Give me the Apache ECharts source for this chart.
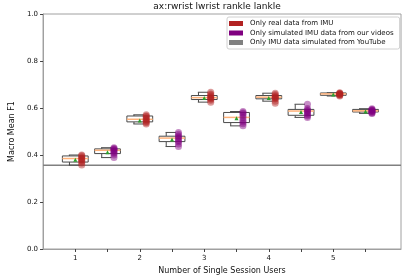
<!DOCTYPE html>
<html>
<head>
<meta charset="utf-8">
<script src="https://cdn.jsdelivr.net/npm/echarts@6/dist/echarts.min.js"></script>
<style>html,body{margin:0;padding:0;background:#fff}#c{width:407px;height:280px}</style>
</head>
<body>
<div id="c"></div>
<script>
// ---- data ----
const userCounts = [1, 2, 3, 4, 5];
const xTickLabels = ['1', '2', '3', '4', '5'];
const yTickValues = [0.0, 0.2, 0.4, 0.6, 0.8, 1.0];
const seriesNames = ['Only real data from IMU', 'Only simulated IMU data from our videos', 'Only IMU data simulated from YouTube'];

// [min, q1, median, q3, max]
const realStats = [
  [0.357, 0.370, 0.385, 0.396, 0.400],
  [0.532, 0.541, 0.552, 0.566, 0.571],
  [0.625, 0.636, 0.644, 0.653, 0.667],
  [0.629, 0.639, 0.646, 0.653, 0.663],
  [0.651, 0.654, 0.660, 0.664, 0.665]
];
const simStats = [
  [0.389, 0.406, 0.420, 0.426, 0.431],
  [0.436, 0.457, 0.472, 0.480, 0.496],
  [0.524, 0.538, 0.560, 0.581, 0.585],
  [0.560, 0.569, 0.587, 0.594, 0.616],
  [0.577, 0.583, 0.588, 0.594, 0.597]
];
const realMeans = [0.380, 0.547, 0.643, 0.643, 0.657];
const simMeans = [0.412, 0.466, 0.556, 0.583, 0.585];

const realPoints = [
  [0.400, 0.397, 0.391, 0.386, 0.383, 0.378, 0.372, 0.366, 0.357],
  [0.571, 0.566, 0.563, 0.556, 0.551, 0.546, 0.541, 0.537, 0.532],
  [0.667, 0.660, 0.655, 0.650, 0.645, 0.642, 0.638, 0.633, 0.625],
  [0.663, 0.657, 0.652, 0.648, 0.645, 0.642, 0.638, 0.629, 0.620],
  [0.665, 0.663, 0.661, 0.660, 0.658, 0.656, 0.654, 0.651]
];
const simPoints = [
  [0.431, 0.428, 0.424, 0.421, 0.418, 0.412, 0.407, 0.400, 0.389],
  [0.496, 0.488, 0.481, 0.476, 0.470, 0.462, 0.456, 0.447, 0.436],
  [0.585, 0.580, 0.576, 0.567, 0.558, 0.548, 0.540, 0.533, 0.524],
  [0.616, 0.598, 0.592, 0.588, 0.584, 0.578, 0.571, 0.566, 0.560],
  [0.597, 0.594, 0.591, 0.589, 0.587, 0.585, 0.582, 0.579, 0.577]
];
const youtubeBaseline = 0.356;

// ---- layout constants (not data) ----
const simOffset = 0.5;
const dotOffset = 0.1;
const boxWidth = 0.4;
const xMin = 0.5, xMax = 6.05;
const realColor = '#b22222', simColor = '#800080', ytColor = '#808080';
const FONT = 'DejaVu Sans';

const boxData = [];
userCounts.forEach((u, i) => {
  boxData.push([u].concat(realStats[i]));
  boxData.push([u + simOffset].concat(simStats[i]));
});
const meanData = [];
userCounts.forEach((u, i) => {
  meanData.push([u, realMeans[i]]);
  meanData.push([u + simOffset, simMeans[i]]);
});
const realDots = [], simDots = [];
userCounts.forEach((u, i) => {
  realPoints[i].forEach(v => realDots.push([u + dotOffset, v]));
  simPoints[i].forEach(v => simDots.push([u + simOffset + dotOffset, v]));
});

function renderBox(params, api) {
  const x = api.value(0);
  const vMin = api.value(1), q1 = api.value(2), med = api.value(3), q3 = api.value(4), vMax = api.value(5);
  const L = api.coord([x - boxWidth / 2, q3]);
  const R = api.coord([x + boxWidth / 2, q1]);
  const wx = api.coord([x - 0.09, 0])[0];
  const capL = api.coord([x - 0.1, 0])[0];
  const capR = api.coord([x + 0.06, 0])[0];
  const yMin = api.coord([x, vMin])[1], yMax = api.coord([x, vMax])[1];
  const yMed = api.coord([x, med])[1];
  const stroke = { stroke: '#4a4a4a', lineWidth: 1, fill: null };
  return {
    type: 'group',
    children: [
      { type: 'line', shape: { x1: wx, y1: L[1], x2: wx, y2: yMax }, style: stroke },
      { type: 'line', shape: { x1: wx, y1: R[1], x2: wx, y2: yMin }, style: stroke },
      { type: 'line', shape: { x1: capL, y1: yMax, x2: capR, y2: yMax }, style: stroke },
      { type: 'line', shape: { x1: capL, y1: yMin, x2: capR, y2: yMin }, style: stroke },
      { type: 'rect', shape: { x: L[0], y: L[1], width: R[0] - L[0], height: R[1] - L[1] },
        style: { fill: '#ffffff', stroke: '#4a4a4a', lineWidth: 1 } },
      { type: 'line', shape: { x1: L[0], y1: yMed, x2: R[0], y2: yMed },
        style: { stroke: '#ffb27a', lineWidth: 1.5 } }
    ]
  };
}

const chart = echarts.init(document.getElementById('c'), null, { renderer: 'canvas' });
chart.setOption({
  animation: false,
  backgroundColor: '#ffffff',
  textStyle: { fontFamily: FONT },
  graphic: [{
    type: 'text', x: 217, y: 7,
    style: { text: 'ax:rwrist lwrist rankle lankle', textAlign: 'center', textVerticalAlign: 'middle',
      font: '9px "DejaVu Sans"', fill: '#111' }
  }],
  grid: { left: 32, right: 6, top: 14, bottom: 28, show: true, borderColor: '#a0a0a0', borderWidth: 1, backgroundColor: 'transparent' },
  legend: {
    orient: 'vertical', left: 227, top: 17,
    itemWidth: 14, itemHeight: 5, itemGap: 2.5,
    padding: [3, 6, 3, 2],
    borderColor: '#d0d0d0', borderWidth: 1, borderRadius: 2, backgroundColor: '#fff',
    textStyle: { fontSize: 7, color: '#111', fontFamily: FONT, padding: [0, 0, 0, 2] },
    data: [
      { name: seriesNames[0], icon: 'rect', itemStyle: { color: realColor, opacity: 1 } },
      { name: seriesNames[1], icon: 'rect', itemStyle: { color: simColor, opacity: 1 } },
      { name: seriesNames[2], icon: 'rect', itemStyle: { color: ytColor, opacity: 1 } }
    ]
  },
  xAxis: {
    type: 'value', min: xMin, max: xMax,
    name: 'Number of Single Session Users', nameLocation: 'middle', nameGap: 18,
    nameTextStyle: { fontSize: 8, color: '#111', fontFamily: FONT },
    axisLine: { show: true, lineStyle: { color: '#a0a0a0' } },
    axisTick: { show: true, length: 3, lineStyle: { color: '#444' },
      customValues: [1, 1.5, 2, 2.5, 3, 3.5, 4, 4.5, 5, 5.5] },
    axisLabel: { fontSize: 7, color: '#111', margin: 6, fontFamily: FONT,
      customValues: userCounts, formatter: v => xTickLabels[userCounts.indexOf(Math.round(v))] || '' },
    splitLine: { show: false }
  },
  yAxis: {
    type: 'value', min: 0, max: 1, interval: 0.2,
    name: 'Macro Mean F1', nameLocation: 'middle', nameGap: 24,
    nameTextStyle: { fontSize: 8, color: '#111', fontFamily: FONT },
    axisLine: { show: true, lineStyle: { color: '#a0a0a0' } },
    axisTick: { show: true, length: 3, lineStyle: { color: '#444' } },
    axisLabel: { fontSize: 7, color: '#111', margin: 5, fontFamily: FONT,
      formatter: v => { const t = yTickValues.find(y => Math.abs(y - v) < 1e-6); return t === undefined ? '' : t.toFixed(1); } },
    splitLine: { show: false }
  },
  series: [
    {
      name: seriesNames[2], type: 'line', data: [[xMin, youtubeBaseline], [xMax, youtubeBaseline]],
      showSymbol: false, symbol: 'none', lineStyle: { color: ytColor, width: 1.5 }, itemStyle: { color: ytColor }, z: 1
    },
    {
      name: 'boxes', type: 'custom', renderItem: renderBox, data: boxData,
      encode: { x: 0, y: [1, 2, 3, 4, 5] }, z: 2
    },
    {
      name: seriesNames[0], type: 'scatter', data: realDots, symbolSize: 7,
      itemStyle: { color: realColor, opacity: 0.45 }, z: 3
    },
    {
      name: seriesNames[1], type: 'scatter', data: simDots, symbolSize: 7,
      itemStyle: { color: simColor, opacity: 0.45 }, z: 3
    },
    {
      name: 'means', type: 'scatter', data: meanData, symbol: 'triangle', symbolSize: 4,
      itemStyle: { color: '#2ca02c', opacity: 1 }, z: 4
    }
  ]
});
</script>
</body>
</html>
